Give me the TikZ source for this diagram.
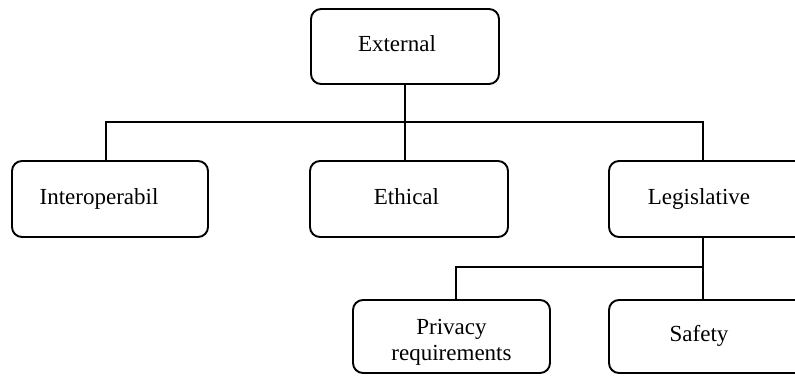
\documentclass[tikz,border=0pt]{standalone}
\usepackage{fontspec}
\setmainfont{Liberation Serif}
\begin{document}
\begin{tikzpicture}[x=1pt,y=-1pt,
  box/.style={draw, line width=1.9pt, rounded corners=10pt, inner sep=0pt,
    minimum height=76pt, font=\fontsize{23}{26}\selectfont,
    text height=16pt, text depth=5.5pt},
  link/.style={line width=1.9pt}]
\useasboundingbox (0,0) rectangle (795,375);
\clip (0,0) rectangle (795,375);

% root
\node[box, minimum width=188pt, minimum height=75pt] (ext) at (405,46.5) {External\kern16pt};

% second level
\node[box, minimum width=196pt] (int) at (110,199) {Interoperabil\kern22pt};
\node[box, minimum width=198pt] (eth) at (409,199) {Ethical\kern5pt};
\node[box, minimum width=196pt] (leg) at (707,199) {Legislative\kern16pt};

% third level
\node[box, minimum width=197pt, minimum height=73pt, align=center,
      text height=, text depth=] (priv) at (451.5,336.5)
      {\rule{0pt}{26pt}Privacy\\requirements};
\node[box, minimum width=196pt, minimum height=73pt] (saf) at (707,336.5) {Safety\kern16pt};

% connectors
\coordinate (hubA) at (405,122);
\coordinate (hubAl) at (106,122);
\coordinate (hubAr) at (703,122);
\coordinate (hubB) at (703,267);
\coordinate (hubBl) at (456,267);

\draw[link] (ext.south) -- (hubA);
\draw[link] (hubAl |- int.north) -- (hubAl) -- (hubAr) -- (hubAr |- leg.north);
\draw[link] (hubA) -- (hubA |- eth.north);
\draw[link] (hubB |- leg.south) -- (hubB);
\draw[link] (hubBl |- priv.north) -- (hubBl) -- (hubB) -- (hubB |- saf.north);
\end{tikzpicture}
\end{document}
